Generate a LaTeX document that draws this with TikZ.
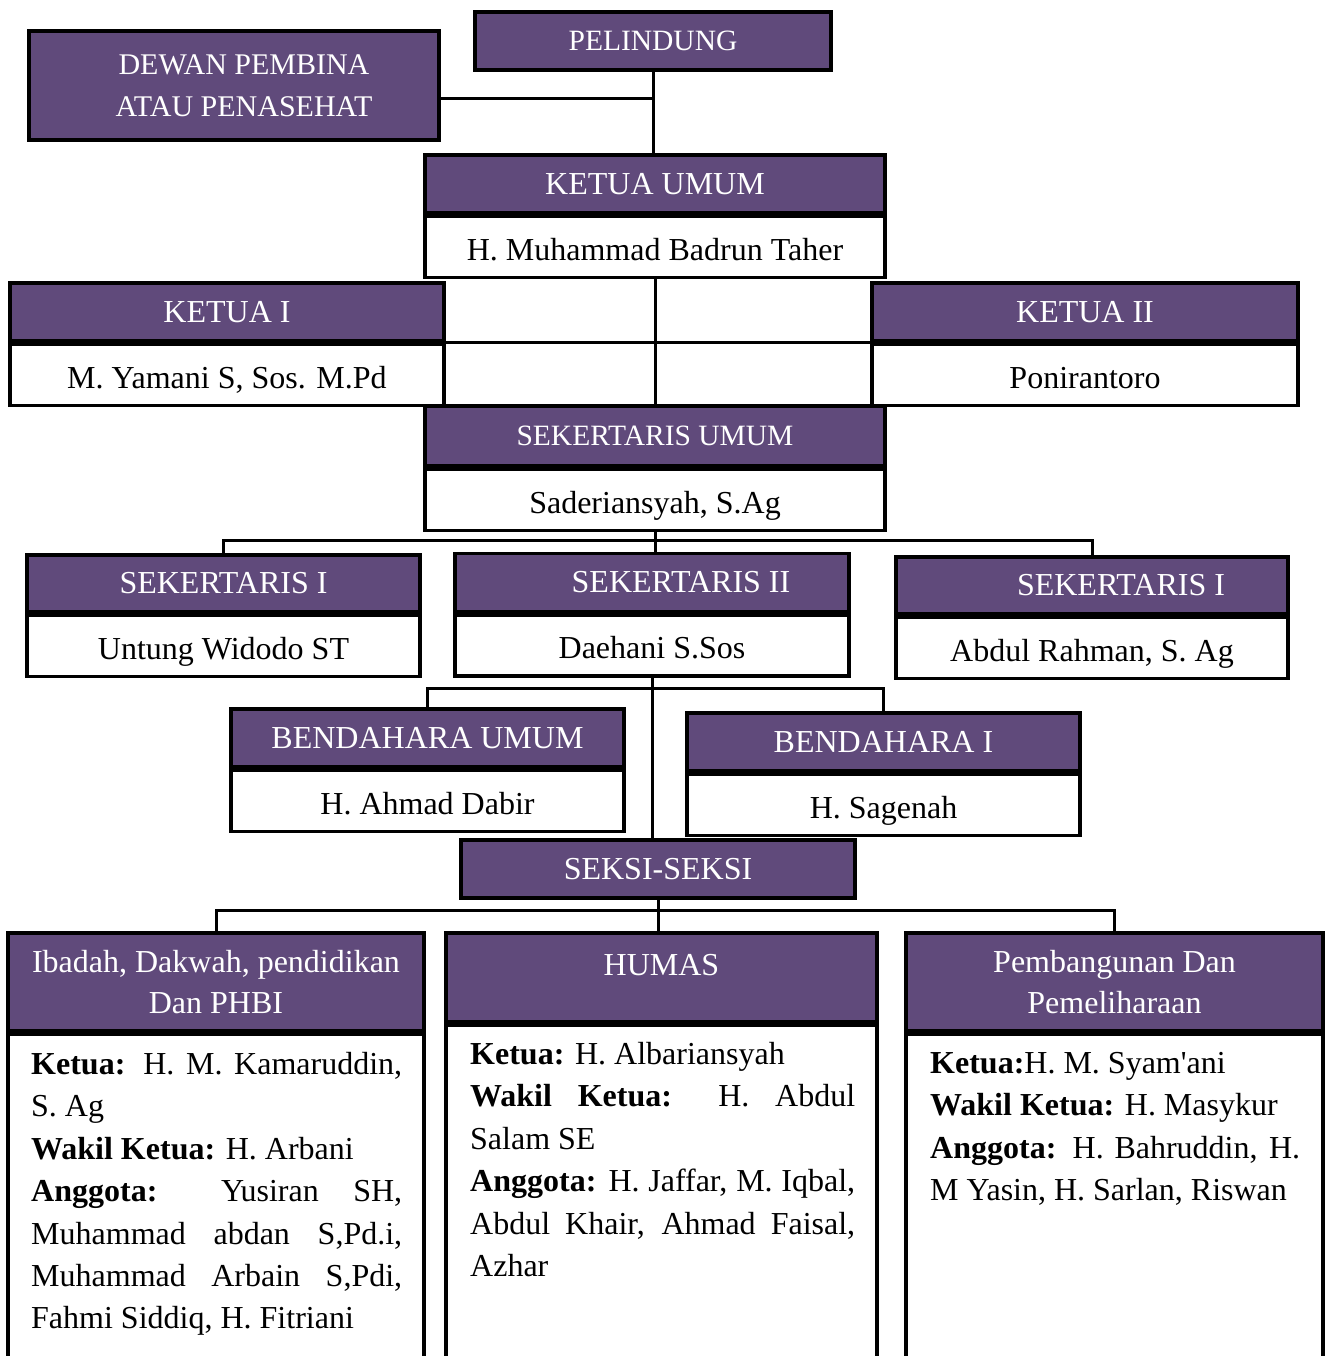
\documentclass[tikz,border=0pt]{standalone}
\usepackage{fontspec}
\setmainfont{Liberation Serif}
\usetikzlibrary{positioning}
\definecolor{ungu}{HTML}{604A7B}
\setlength{\parindent}{0pt}
\hyphenpenalty=10000
\exhyphenpenalty=10000

\begin{document}
\begin{tikzpicture}[
x=1pt,y=-1pt,
node distance=0pt,
judul/.style={draw=black,line width=3.5pt,fill=ungu,text=white,inner sep=0pt,minimum height=58,font=\fontsize{32}{41}\selectfont},
nama/.style={draw=black,line width=3.5pt,fill=white,inner sep=0pt,minimum height=61,text height=26pt,text depth=0pt,font=\fontsize{32}{41}\selectfont},
isi/.style={text width=#1,align=justify,inner sep=0pt,anchor=north west,font=\fontsize{32}{42.4}\selectfont},
garis/.style={line width=3pt}
]
\useasboundingbox (0,0) rectangle (1327,1356);
\clip (0,0) rectangle (1327,1356);

% pimpinan
\node[judul,minimum width=356,font=\fontsize{29.5}{36}\selectfont] (pelindung) at (653,41) {PELINDUNG};
\node[judul,minimum width=410,minimum height=109,align=center,font=\fontsize{30}{42}\selectfont] (dewan) at (234,85.5) {\hspace*{20pt}DEWAN PEMBINA\\\hspace*{20pt}ATAU PENASEHAT};
\node[judul,minimum width=460] (kumum) at (655,184) {KETUA UMUM};
\node[nama,minimum width=460,below=of kumum] (kumumn) {H. Muhammad Badrun Taher};
\node[judul,minimum width=434] (ketua1) at (227,312) {KETUA I};
\node[nama,minimum width=434,below=of ketua1] (ketua1n) {M. Yamani S, Sos. M.Pd};
\node[judul,minimum width=426] (ketua2) at (1085,312) {KETUA II};
\node[nama,minimum width=426,below=of ketua2] (ketua2n) {Ponirantoro};

% sekretariat
\node[judul,minimum width=460,minimum height=60,font=\fontsize{29.5}{36}\selectfont] (sekum) at (655,436) {SEKERTARIS UMUM};
\node[nama,minimum width=460,below=of sekum] (sekumn) {Saderiansyah, S.Ag};
\node[judul,minimum width=393,minimum height=57] (sek1) at (223.5,583.5) {SEKERTARIS I};
\node[nama,minimum width=393,below=of sek1] (sek1n) {Untung Widodo ST};
\node[judul,minimum width=394] (sek2) at (652,582.5) {\hspace*{58pt}SEKERTARIS II};
\node[nama,minimum width=394,below=of sek2] (sek2n) {Daehani S.Sos};
\node[judul,minimum width=392,minimum height=57] (sek3) at (1092,585.5) {\hspace*{58pt}SEKERTARIS I};
\node[nama,minimum width=392,below=of sek3] (sek3n) {Abdul Rahman, S. Ag};

% bendahara
\node[judul,minimum width=393] (bend1) at (427.5,738) {BENDAHARA UMUM};
\node[nama,minimum width=393,below=of bend1] (bend1n) {H. Ahmad Dabir};
\node[judul,minimum width=393] (bend2) at (883.5,742) {BENDAHARA I};
\node[nama,minimum width=393,below=of bend2] (bend2n) {H. Sagenah};

% seksi
\node[judul,minimum width=394] (seksi) at (658,869) {SEKSI-SEKSI};
\node[judul,minimum width=416,minimum height=98,align=center] (bid1) at (216,982) {Ibadah, Dakwah, pendidikan\\Dan PHBI};
\node[nama,minimum width=416,minimum height=400,below=of bid1] (bid1n) {};
\node[judul,minimum width=431,minimum height=89,text depth=26pt] (bid2) at (661.5,977.5) {HUMAS};
\node[nama,minimum width=431,minimum height=400,below=of bid2] (bid2n) {};
\node[judul,minimum width=417,minimum height=98,align=center] (bid3) at (1114.5,982) {Pembangunan Dan\\Pemeliharaan};
\node[nama,minimum width=417,minimum height=400,below=of bid3] (bid3n) {};

\node[isi=371pt] (teks1) at (31,1052) {{\bfseries Ketua:} H. M. Kamaruddin,\linebreak S. Ag\par
{\bfseries Wakil Ketua:} H. Arbani\par
{\bfseries Anggota:} Yusiran SH,\linebreak Muhammad abdan S,Pd.i,\linebreak Muhammad Arbain S,Pdi,\linebreak Fahmi Siddiq, H. Fitriani};
\node[isi=385pt] (teks2) at (470,1042) {{\bfseries Ketua:} H. Albariansyah\par
{\bfseries Wakil Ketua:} H. Abdul\linebreak Salam SE\par
{\bfseries Anggota:} H. Jaffar, M. Iqbal,\linebreak Abdul Khair, Ahmad Faisal,\linebreak Azhar};
\node[isi=370pt] (teks3) at (930,1052) {{\bfseries Ketua:}H. M. Syam\textquotesingle ani\par
{\bfseries Wakil Ketua:} H. Masykur\par
{\bfseries Anggota:} H. Bahruddin, H.\linebreak M Yasin, H. Sarlan, Riswan};

% garis
\draw[garis] (pelindung.south) -- (pelindung.south |- kumum.north);
\draw[garis] ([yshift=-13pt]dewan.east) -- ([yshift=-13pt]dewan.east -| pelindung.south);
\draw[garis] (kumumn.south) -- (kumumn.south |- sekum.north);
\draw[garis] (ketua1.south east) -- (ketua2.south west);
\coordinate (sekbus) at (652,540);
\draw[garis] (sek1.north) |- (sekbus) -| (sek3.north);
\draw[garis] (sekumn.south) -- (sekumn.south |- sek2.north);
\coordinate (bendbus) at (654,688);
\draw[garis] (bend1.north) |- (bendbus) -| (bend2.north);
\draw[garis] (sek2n.south) -- (sek2n.south |- seksi.north);
\coordinate (seksibus) at (660,910);
\draw[garis] (bid1.north) |- (seksibus) -| (bid3.north);
\draw[garis] (seksi.south) -- (seksi.south |- bid2.north);
\end{tikzpicture}
\end{document}
